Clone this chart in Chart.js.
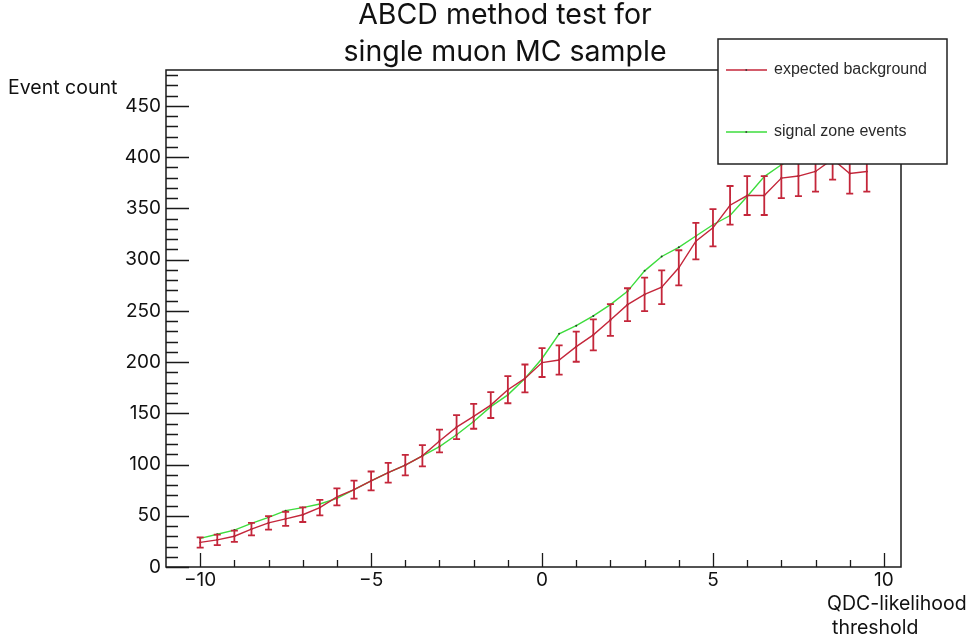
<!DOCTYPE html>
<html>
<head>
<meta charset="utf-8">
<script src="https://cdn.jsdelivr.net/npm/chart.js@4.4.1/dist/chart.umd.min.js"></script>
<style>
  html, body { margin: 0; padding: 0; background: #ffffff; }
  canvas { display: block; }
</style>
</head>
<body>
<canvas id="chart" width="971" height="643"></canvas>
<script>
// QDC-likelihood threshold scan
const thresholds = [
  -10, -9.5, -9, -8.5, -8, -7.5, -7, -6.5, -6, -5.5,
  -5, -4.5, -4, -3.5, -3, -2.5, -2, -1.5, -1, -0.5,
  0, 0.5, 1, 1.5, 2, 2.5, 3, 3.5, 4, 4.5,
  5, 5.5, 6, 6.5, 7, 7.5, 8, 8.5, 9, 9.5
];

// ABCD prediction for the signal zone
const expectedBackground = [
  24, 26.5, 30, 37, 43, 47, 51, 58, 68.5, 75.5,
  84, 92, 99.5, 108.5, 123, 136.5, 147, 158, 173, 184,
  199.5, 202, 215, 226.5, 241, 256, 266, 273, 292, 318,
  331, 353, 362.5, 362.5, 379.5, 381.5, 386, 398, 384, 386
];

// statistical uncertainty on the prediction
const backgroundErrors = [
  5, 5.1, 5.5, 6.1, 6.6, 6.9, 7.1, 7.6, 8.3, 8.7,
  9.2, 9.6, 10, 10.4, 11.1, 11.7, 12.1, 12.6, 13.2, 13.6,
  14.1, 14.2, 14.7, 15.1, 15.5, 16, 16.3, 16.5, 17.1, 17.8,
  18.2, 18.8, 19, 19, 19.5, 19.5, 19.6, 19.9, 19.6, 19.6
];

// events counted in the signal zone
const signalZoneEvents = [
  28, 32, 36, 42.5, 48.5, 55, 58, 61.5, 67, 75.5,
  84, 92, 99.5, 108.5, 117.5, 129, 142, 156.5, 168, 184,
  203.5, 227.5, 235.5, 245, 256, 269, 289, 303, 312, 323,
  334, 343, 361.5, 381, 392.5, 402, 410, 415, 420, 425
];

const xTickValues = [-10, -5, 0, 5, 10];
const yTickValues = [0, 50, 100, 150, 200, 250, 300, 350, 400, 450];

const seriesNames = ['expected background', 'signal zone events'];
const titleLines = ['ABCD method test for', 'single muon MC sample'];
const yAxisTitle = 'Event count';
const xAxisTitleLines = ['QDC-likelihood', 'threshold'];

const textFont = "Inter, 'Open Sans', sans-serif";
const legendFont = "'Liberation Sans', Arial, sans-serif";
const bgColor = '#c4263a';
const sigColor = '#3ddc3d';

const toPoints = (values) => thresholds.map((t, i) => ({ x: t, y: values[i] }));

// error bars on the background prediction
const errorBars = {
  id: 'errorBars',
  afterDatasetsDraw(chart) {
    const { ctx, chartArea: a, scales: { x, y } } = chart;
    ctx.save();
    ctx.beginPath();
    ctx.rect(a.left, a.top, a.right - a.left, a.bottom - a.top);
    ctx.clip();
    ctx.strokeStyle = bgColor;
    ctx.lineWidth = 1.8;
    ctx.beginPath();
    thresholds.forEach((t, i) => {
      const px = x.getPixelForValue(t);
      const top = y.getPixelForValue(expectedBackground[i] + backgroundErrors[i]);
      const bot = y.getPixelForValue(expectedBackground[i] - backgroundErrors[i]);
      ctx.moveTo(px, top); ctx.lineTo(px, bot);
      ctx.moveTo(px - 3.5, top); ctx.lineTo(px + 3.5, top);
      ctx.moveTo(px - 3.5, bot); ctx.lineTo(px + 3.5, bot);
    });
    ctx.stroke();
    ctx.restore();
  }
};

// frame, inward ticks, legend box and captions
const decorations = {
  id: 'decorations',
  afterDraw(chart) {
    const { ctx, chartArea: a, scales: { x, y } } = chart;
    ctx.save();

    // frame
    ctx.strokeStyle = '#1a1a1a';
    ctx.lineWidth = 1.5;
    ctx.strokeRect(a.left, a.top, a.right - a.left, a.bottom - a.top);

    // inward ticks
    ctx.lineWidth = 1.3;
    ctx.beginPath();
    for (let v = 0; v <= 480; v += 10) {
      const py = Math.round(y.getPixelForValue(v)) + 0.5;
      const len = v % 50 === 0 ? 23 : 12;
      ctx.moveTo(a.left, py); ctx.lineTo(a.left + len, py);
    }
    for (let v = -10; v <= 10; v += 1) {
      const px = Math.round(x.getPixelForValue(v)) + 0.5;
      const len = v % 5 === 0 ? 14 : 7;
      ctx.moveTo(px, a.bottom); ctx.lineTo(px, a.bottom - len);
    }
    ctx.stroke();

    // legend box
    const box = { left: 718, top: 39, right: 947, bottom: 164 };
    ctx.fillStyle = '#ffffff';
    ctx.fillRect(box.left, box.top, box.right - box.left, box.bottom - box.top);
    ctx.strokeStyle = '#222222';
    ctx.lineWidth = 1.5;
    ctx.strokeRect(box.left, box.top, box.right - box.left, box.bottom - box.top);
    const rows = [70, 132];
    chart.data.datasets.forEach((ds, i) => {
      const ly = rows[i];
      ctx.strokeStyle = ds.borderColor;
      ctx.lineWidth = 1.4;
      ctx.beginPath();
      ctx.moveTo(726, ly); ctx.lineTo(767, ly);
      ctx.stroke();
      ctx.fillStyle = '#333333';
      ctx.fillRect(745.5, ly - 0.8, 1.6, 1.6);
      ctx.fillStyle = '#2a2a2a';
      ctx.font = `16px ${legendFont}`;
      ctx.textAlign = 'left';
      ctx.textBaseline = 'middle';
      ctx.fillText(ds.label, 774, ly);
    });

    // titles
    ctx.fillStyle = '#111111';
    ctx.textBaseline = 'alphabetic';
    ctx.textAlign = 'center';
    ctx.font = `28.5px ${textFont}`;
    ctx.fillText(titleLines[0], 505, 24);
    ctx.fillText(titleLines[1], 505, 61);

    ctx.textAlign = 'left';
    ctx.font = `19.5px ${textFont}`;
    ctx.fillText(yAxisTitle, 8, 94);
    ctx.fillText(xAxisTitleLines[0], 827, 610);
    ctx.fillText(xAxisTitleLines[1], 832, 634);

    ctx.restore();
  }
};

new Chart(document.getElementById('chart'), {
  type: 'line',
  data: {
    datasets: [
      {
        label: seriesNames[0],
        data: toPoints(expectedBackground),
        borderColor: bgColor,
        borderWidth: 1.4,
        pointRadius: 1,
        pointBackgroundColor: '#3a2020',
        pointBorderWidth: 0,
        tension: 0,
        order: 1
      },
      {
        label: seriesNames[1],
        data: toPoints(signalZoneEvents),
        borderColor: sigColor,
        borderWidth: 1.4,
        pointRadius: 1,
        pointBackgroundColor: '#204020',
        pointBorderWidth: 0,
        tension: 0,
        order: 2
      }
    ]
  },
  options: {
    responsive: false,
    animation: false,
    events: [],
    layout: { padding: { top: 70, right: 70, left: 0, bottom: 0 } },
    plugins: {
      legend: { display: false },
      title: { display: false },
      tooltip: { enabled: false }
    },
    scales: {
      x: {
        type: 'linear',
        min: -11,
        max: 10.5,
        grid: { display: false, drawTicks: false },
        border: { display: false },
        ticks: {
          padding: 2,
          color: '#111111',
          font: { family: textFont, size: 19 },
          maxRotation: 0,
          callback: (v) => String(v).replace('-', '\u2212')
        },
        afterBuildTicks: (s) => { s.ticks = xTickValues.map((v) => ({ value: v })); },
        afterFit: (s) => { s.height = 76; }
      },
      y: {
        type: 'linear',
        min: 0,
        max: 485,
        grid: { display: false, drawTicks: false },
        border: { display: false },
        ticks: {
          padding: 5,
          color: '#111111',
          font: { family: textFont, size: 19 }
        },
        afterBuildTicks: (s) => { s.ticks = yTickValues.map((v) => ({ value: v })); },
        afterFit: (s) => { s.width = 166; }
      }
    }
  },
  plugins: [errorBars, decorations]
});
</script>
</body>
</html>
